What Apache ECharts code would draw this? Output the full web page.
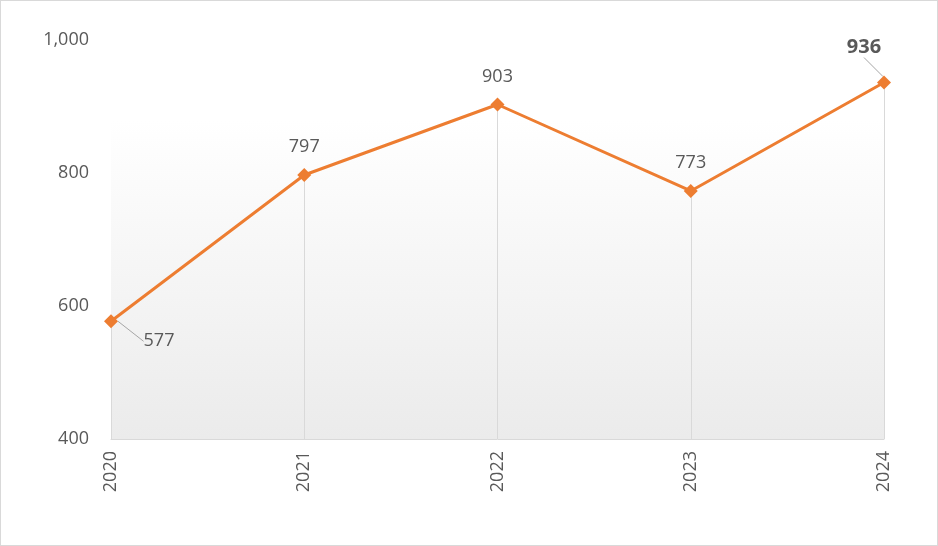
<!DOCTYPE html>
<html>
<head>
<meta charset="utf-8">
<script src="https://cdn.jsdelivr.net/npm/echarts@6/dist/echarts.min.js"></script>
<style>
  html, body { margin: 0; padding: 0; background: #fff; }
  #chart { width: 938px; height: 546px; box-sizing: border-box; border: 1px solid #d9d9d9; }
</style>
</head>
<body>
<div id="chart"></div>
<script>
var years = ['2020', '2021', '2022', '2023', '2024'];
var values = [577, 797, 903, 773, 936];
var yMin = 400;

var myChart = echarts.init(document.getElementById('chart'));

var guide = { show: true, lineStyle: { color: '#a6a6a6', width: 1 } };
var seriesData = values.map(function (v, i) {
  var item = { value: v };
  if (i === 0 || i === values.length - 1) item.labelLine = guide;
  return item;
});
var dropLines = values.map(function (v, i) {
  return [{ coord: [i, yMin] }, { coord: [i, v] }];
});

var option = {
  animation: false,
  grid: {
    left: 110, right: 53, top: 39, bottom: 106,
    show: true,
    borderWidth: 0,
    backgroundColor: {
      type: 'linear', x: 0, y: 0, x2: 0, y2: 1,
      colorStops: [
        { offset: 0, color: '#ffffff' },
        { offset: 0.2, color: '#ffffff' },
        { offset: 1, color: '#ebebeb' }
      ]
    }
  },
  xAxis: {
    type: 'category',
    data: years,
    boundaryGap: false,
    axisLine: { lineStyle: { color: '#d9d9d9' } },
    axisTick: { show: false },
    splitLine: { show: false },
    axisLabel: {
      rotate: 90, color: '#595959', fontSize: 18, margin: 12,
      fontFamily: 'Open Sans'
    }
  },
  yAxis: {
    type: 'value',
    min: yMin, max: 1000, interval: 200,
    axisLine: { show: false },
    axisTick: { show: false },
    splitLine: { show: false },
    axisLabel: {
      color: '#595959', fontSize: 18, margin: 22,
      fontFamily: 'Open Sans',
      formatter: function (v) { return v.toLocaleString('en-US'); }
    }
  },
  series: [{
    type: 'line',
    data: seriesData,
    symbol: 'diamond',
    symbolSize: 14,
    lineStyle: { color: '#ed7d31', width: 3 },
    itemStyle: { color: '#ed7d31' },
    label: {
      show: true, position: 'top', distance: 12,
      color: '#595959', fontSize: 18, fontFamily: 'Open Sans',
      formatter: function (p) {
        return p.dataIndex === values.length - 1 ? '{b|' + p.value + '}' : p.value;
      },
      rich: { b: { fontWeight: 'bold', fontSize: 20, color: '#595959', fontFamily: 'Open Sans' } }
    },
    labelLine: { show: false },
    labelLayout: function (params) {
      if (params.dataIndex === 0) return { dx: 48, dy: 48 };
      if (params.dataIndex === values.length - 1) return { dx: -20, dy: -6 };
      return {};
    },
    markLine: {
      silent: true,
      symbol: 'none',
      label: { show: false },
      lineStyle: { color: '#d9d9d9', width: 1, type: 'solid' },
      data: dropLines,
      z: 1
    },
    z: 3
  }]
};

myChart.setOption(option);
window.addEventListener('resize', function () { myChart.resize(); });
</script>
</body>
</html>
